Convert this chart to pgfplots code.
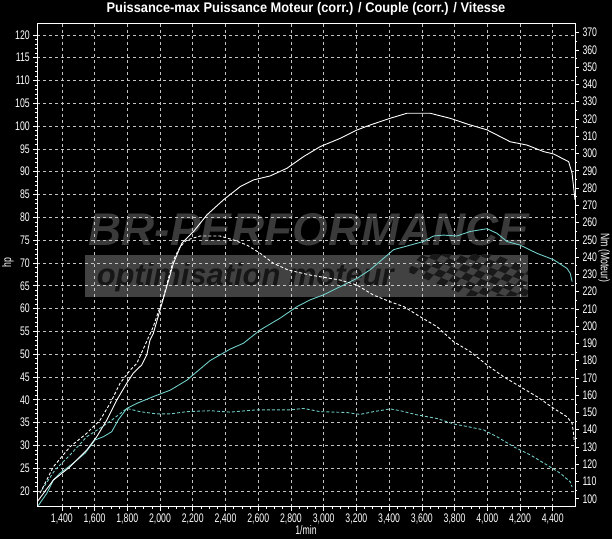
\documentclass[border=0pt]{standalone}
\usepackage{pgfplots}
\pgfplotsset{compat=1.18}
\usepackage{fontspec}
\setmainfont{Liberation Sans}
\newfontfamily\narrowfont[FakeStretch=0.7]{Liberation Sans}
\newfontfamily\titlefont[FakeStretch=0.92]{Liberation Sans}
\definecolor{cyanline}{RGB}{112,206,200}
\definecolor{gridc}{RGB}{195,195,195}
\definecolor{wm}{RGB}{58,58,58}
\definecolor{band}{RGB}{66,66,66}
\definecolor{wmtext}{RGB}{22,22,22}

\begin{document}
\begin{tikzpicture}[x=1bp,y=1bp]
% background
\fill[black] (-37.3,-32.3) rectangle (574.7,506.7);
% watermark
\node[font=\bfseries\itshape\fontsize{46}{46}\selectfont, text=wm] at (271.7,276.7) {BR-PERFORMANCE};
\fill[band] (47.7,210) rectangle (490.7,251.7);
\node[font=\bfseries\itshape\fontsize{31}{31}\selectfont, text=wmtext, anchor=west] at (56,229.5) {optimisation moteur};
\begin{scope}
\clip (372,211) rectangle (490.7,251.7);
\begin{scope}[shift={(436,231)}, rotate=-22, xslant=0.35]
\foreach \i in {-7,...,7}{
  \foreach \j in {-3,...,3}{
    \pgfmathtruncatemacro{\cpar}{mod(\i+\j+20,2)}
    \ifnum\cpar=0
      \fill[black!90] (\i*8,\j*7) rectangle ++(8,7);
    \fi
  }
}
\end{scope}
\end{scope}

\begin{axis}[
  at={(0,0)}, anchor=south west,
  scale only axis, width=537.7bp, height=483.7bp,
  xmin=1250, xmax=4536, ymin=16.56, ymax=122.6,
  axis line style={white, line width=0.9bp},
  xtick={1400,1600,...,4400},
  ytick={20,25,...,120},
  minor x tick num=3, minor y tick num=4,
  xtick pos=lower, ytick pos=left,
  tick align=outside,
  major tick length=4bp, minor tick length=2bp,
  every tick/.style={white, line width=0.6bp},
  grid=major,
  major grid style={gridc, dash pattern=on 3bp off 3bp, line width=0.6bp},
  ticklabel style={white, font=\narrowfont\fontsize{12.5}{13}\selectfont},
  /pgf/number format/assume math mode=true,
  /pgf/number format/1000 sep={,},
  scaled x ticks=false,
  clip=true,
]
% cyan dashed (Puissance-max / reference)
\addplot[cyanline, line width=0.9bp, dash pattern=on 3bp off 2bp] coordinates {
(1277,20.2)(1358,24.6)(1450,27.9)(1552,31.9)(1634,33.8)(1707,35.6)(1797,38.1)
(1878,37.4)(1980,36.9)(2062,36.9)(2164,37.4)(2306,37.6)(2428,37.3)(2592,37.8)
(2795,37.8)(2877,38.1)(2979,37.4)(3142,37.2)(3223,36.8)(3305,37.4)(3407,38.0)
(3468,37.6)(3570,36.7)(3692,35.9)(3794,34.7)(3896,34.0)(3977,33.4)(4059,31.9)
(4161,29.7)(4263,27.9)(4365,25.7)(4446,23.9)(4507,22.0)(4518,20.9)
};
% cyan solid (Puissance Moteur corr.)
\addplot[cyanline, line width=0.9bp] coordinates {
(1256,16.8)(1308,19.5)(1348,22.4)(1389,23.9)(1470,26.1)(1542,28.3)(1603,31.2)
(1654,31.9)(1705,33.0)(1745,35.6)(1797,38.1)(1858,39.2)(1959,40.7)(2062,42.1)
(2164,44.3)(2306,48.6)(2428,51.1)(2510,52.4)(2612,55.3)(2734,57.9)(2836,60.4)
(2917,61.9)(2999,63.0)(3101,64.8)(3203,66.6)(3284,68.5)(3366,71.0)(3427,72.9)
(3529,73.9)(3610,74.7)(3671,75.9)(3732,76.1)(3814,75.9)(3896,76.9)(3998,77.5)
(4059,76.5)(4120,74.7)(4201,73.9)(4304,72.1)(4405,70.7)(4487,68.8)(4507,67.7)
(4518,65.9)
};
\end{axis}

\begin{axis}[
  at={(0,0)}, anchor=south west,
  scale only axis, width=537.7bp, height=483.7bp,
  xmin=1250, xmax=4536, ymin=95.4, ymax=375.6,
  axis x line=none, axis y line*=right,
  axis line style={white, line width=0.9bp, -},
  ytick={100,110,...,370},
  minor y tick num=1,
  tick align=outside,
  major tick length=4bp, minor tick length=2bp,
  every tick/.style={white, line width=0.6bp},
  ticklabel style={white, font=\narrowfont\fontsize{12.5}{13}\selectfont},
  /pgf/number format/assume math mode=true,
  clip=true,
]
% white dashed (torque reference)
\addplot[white, line width=0.9bp, dash pattern=on 3bp off 2bp] coordinates {
(1267,103.3)(1348,118.5)(1450,130.1)(1552,137.9)(1634,145.6)(1695,155.3)
(1756,166.9)(1817,174.5)(1858,178.4)(1959,199.7)(2021,217.0)(2082,238.3)
(2123,246.0)(2164,249.9)(2245,252.2)(2367,252.2)(2449,249.9)(2530,247.0)
(2612,242.2)(2693,236.4)(2783,232.5)(2917,229.6)(3101,226.7)(3203,223.8)
(3304,218.0)(3407,214.1)(3492,211.2)(3590,205.4)(3692,199.7)(3794,191.0)
(3896,185.2)(3998,177.5)(4099,170.7)(4201,164.9)(4304,159.1)(4405,152.4)
(4487,147.5)(4518,143.7)(4527,137.9)(4532,133.0)
};
% white solid (Couple corr.)
\addplot[white, line width=0.9bp] coordinates {
(1250,98.3)(1348,110.8)(1450,118.5)(1552,128.2)(1613,135.9)(1675,145.6)
(1736,157.2)(1797,167.0)(1837,172.8)(1888,177.5)(1919,183.3)(1939,192.0)
(1959,195.8)(2000,209.3)(2041,222.8)(2082,236.4)(2133,248.0)(2204,254.7)
(2286,264.4)(2387,273.1)(2490,280.8)(2571,284.7)(2673,287.0)(2775,291.4)
(2877,298.2)(2979,304.0)(3102,308.8)(3203,313.6)(3284,316.5)(3406,320.4)
(3509,323.3)(3651,323.3)(3773,320.4)(3876,317.1)(3998,313.7)(4140,306.8)
(4242,304.9)(4344,301.1)(4405,299.7)(4497,295.3)(4518,288.5)(4527,280.8)
(4536,273.1)
};
\end{axis}
% frame
\draw[white, line width=0.9bp] (0,0) rectangle (537.7,483.7);
% texts
\node[white, font=\titlefont\bfseries\fontsize{14}{15}\selectfont] at (268.7,497.7) {Puissance-max Puissance Moteur (corr.) / Couple (corr.) / Vitesse};
\node[white, font=\narrowfont\fontsize{12.5}{13}\selectfont] at (268.7,-23.3) {1/min};
\node[white, rotate=90, font=\narrowfont\fontsize{12.5}{13}\selectfont] at (-29.3,243.7) {hp};
\node[white, rotate=-90, font=\narrowfont\fontsize{12.5}{13}\selectfont] at (566.7,248.7) {Nm (Moteur)};
\pgfresetboundingbox
\useasboundingbox (-37.3,-32.3) rectangle (574.7,506.7);
\end{tikzpicture}
\end{document}
